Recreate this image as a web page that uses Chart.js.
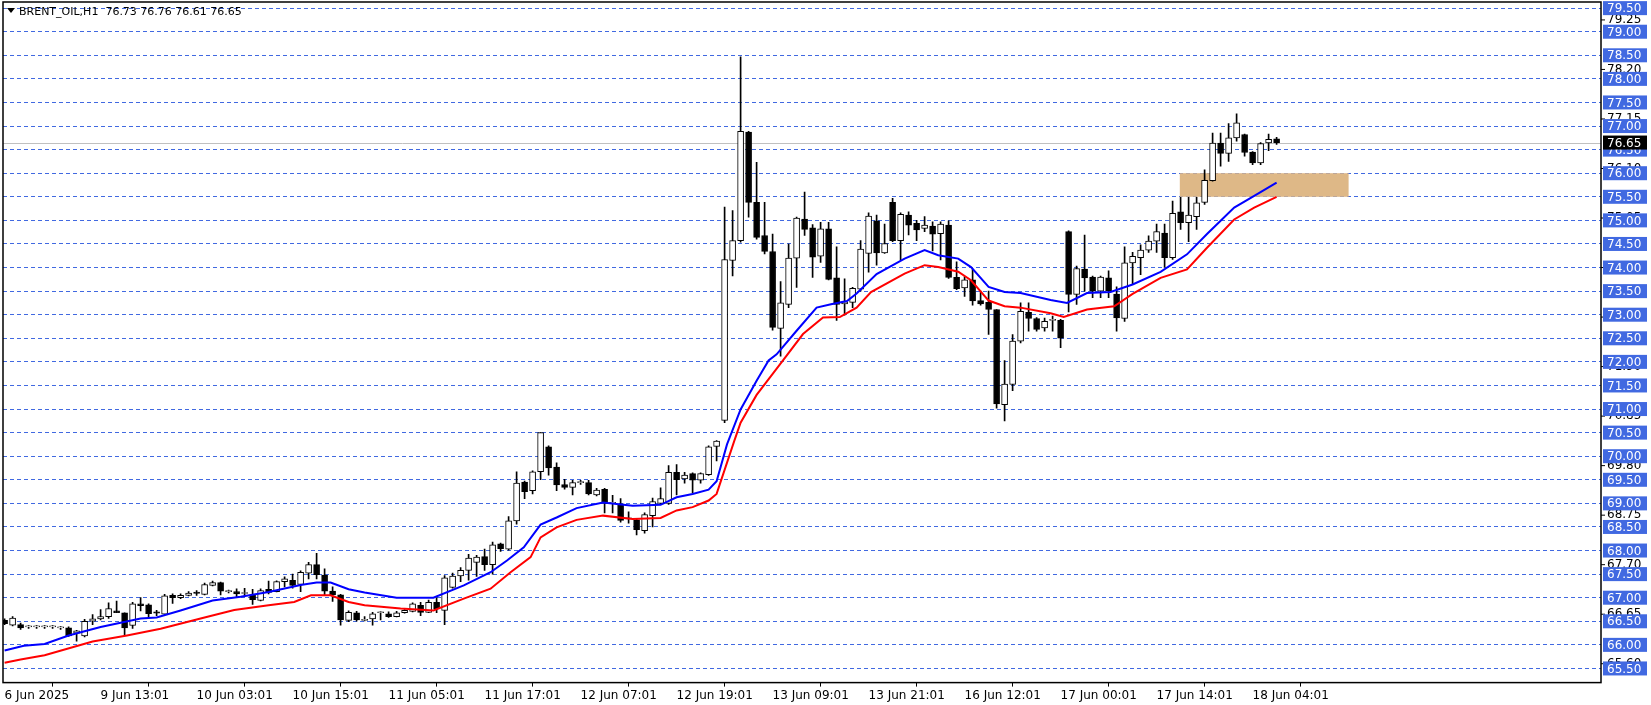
<!DOCTYPE html>
<html><head><meta charset="utf-8">
<script src="https://cdn.jsdelivr.net/npm/chart.js@4/dist/chart.umd.min.js"></script>
<style>html,body{margin:0;padding:0;background:#fff}#wrap{width:1651px;height:705px}</style>
</head><body><div id="wrap"><canvas id="c"></canvas></div>
<script>
const opens = [66.52,66.42,66.43,66.38,66.38,66.38,66.38,66.36,66.36,66.25,66.19,66.50,66.55,66.60,66.72,66.68,66.41,66.87,66.85,66.70,66.65,67.05,67.00,67.05,67.12,67.07,67.26,67.32,67.13,67.13,67.09,67.06,66.94,67.18,67.13,67.34,67.37,67.28,67.52,67.70,67.48,67.14,67.06,66.52,66.68,66.52,66.55,66.68,66.66,66.60,66.68,66.71,66.84,66.69,66.90,66.73,67.22,67.46,67.58,67.75,67.87,67.70,68.14,68.03,68.63,69.45,69.27,69.67,70.20,69.77,69.40,69.34,69.44,69.44,69.18,69.30,69.00,68.99,68.67,68.65,68.42,68.74,69.00,69.00,69.66,69.52,69.63,69.49,69.61,70.21,70.76,74.15,74.57,76.87,75.38,74.68,74.34,72.71,73.22,74.20,75.03,74.84,74.24,74.82,73.78,73.23,73.26,73.54,74.30,74.99,74.31,75.38,74.57,75.11,74.94,74.83,74.88,74.72,74.90,73.79,73.57,73.74,73.30,73.26,73.11,71.09,71.52,72.44,73.05,72.92,72.72,72.88,72.88,74.76,73.43,73.97,73.80,73.50,73.78,73.44,72.92,74.10,74.21,74.37,74.56,74.73,74.21,75.18,74.95,75.08,75.38,75.84,76.64,76.42,76.75,76.82,76.45,76.22,76.64,76.73];
const highs = [66.55,66.60,66.46,66.41,66.41,66.41,66.41,66.39,66.38,66.31,66.54,66.64,66.75,66.89,66.93,66.68,66.90,67.00,66.87,66.73,67.07,67.08,67.08,67.13,67.15,67.31,67.35,67.33,67.16,67.19,67.20,67.18,67.19,67.35,67.36,67.44,67.50,67.57,67.75,67.94,67.61,67.23,67.07,66.72,66.71,66.60,66.69,66.70,66.70,66.71,66.75,66.89,66.90,66.95,67.00,67.47,67.52,67.64,67.92,67.90,68.03,68.18,68.16,68.72,69.67,69.47,69.69,70.50,70.22,69.86,69.51,69.49,69.49,69.49,69.32,69.32,69.17,69.10,68.82,68.67,68.80,69.11,69.33,69.80,69.82,69.66,69.65,69.65,70.22,70.33,75.28,75.21,78.47,76.89,76.23,75.38,74.71,73.70,74.50,75.07,75.60,74.91,74.96,74.96,74.44,73.76,73.58,74.57,75.16,75.11,74.92,75.47,75.16,75.18,75.00,75.08,74.97,74.97,74.99,74.12,73.81,73.97,73.50,73.50,73.11,72.03,72.58,73.25,73.25,72.94,72.93,72.97,72.90,74.78,74.03,74.69,73.82,73.82,73.93,73.59,74.44,74.32,74.48,74.67,74.92,74.92,75.41,75.49,75.49,75.49,76.07,76.85,76.85,77.05,77.26,76.83,76.46,76.65,76.83,76.76];
const lows = [66.43,66.40,66.33,66.35,66.35,66.35,66.35,66.33,66.18,66.08,66.17,66.43,66.53,66.56,66.68,66.20,66.35,66.72,66.60,66.62,66.64,66.88,66.98,67.04,67.05,67.06,67.25,67.06,67.10,67.00,67.02,66.86,66.93,67.08,67.12,67.23,67.20,67.13,67.40,67.40,67.05,66.92,66.42,66.49,66.50,66.51,66.42,66.53,66.58,66.59,66.67,66.70,66.62,66.68,66.68,66.43,67.20,67.34,67.37,67.45,67.58,67.50,67.98,68.01,68.56,69.10,69.20,69.50,69.60,69.27,69.30,69.18,69.40,69.18,69.16,68.80,68.80,68.60,68.58,68.33,68.37,68.50,68.98,68.98,69.18,69.43,69.22,69.43,69.59,69.90,70.71,73.82,74.54,75.07,74.60,74.29,72.67,72.12,73.15,73.58,74.68,73.79,74.11,73.74,72.88,72.99,73.15,73.50,73.90,74.05,74.30,74.55,74.16,74.69,74.57,74.76,74.35,74.16,73.77,73.53,73.39,73.20,73.20,72.58,71.02,70.75,71.39,72.40,72.65,72.65,72.65,72.65,72.30,73.06,73.22,73.50,73.36,73.36,73.36,72.65,72.86,73.64,73.85,74.32,74.32,74.00,74.17,74.81,74.55,74.81,75.34,75.83,76.15,76.25,76.68,76.36,76.18,76.18,76.48,76.61];
const closes = [66.45,66.57,66.36,66.38,66.38,66.38,66.38,66.36,66.19,66.30,66.50,66.55,66.60,66.77,66.68,66.36,66.87,66.83,66.66,66.67,67.04,67.00,67.05,67.10,67.09,67.28,67.32,67.14,67.13,67.08,67.09,66.96,67.15,67.11,67.34,67.40,67.26,67.54,67.70,67.49,67.14,67.06,66.53,66.69,66.53,66.52,66.66,66.68,66.60,66.68,66.73,66.87,66.69,66.90,66.77,67.42,67.46,67.58,67.84,67.86,67.70,68.12,68.04,68.63,69.43,69.25,69.67,70.50,69.75,69.39,69.34,69.44,69.44,69.20,69.28,69.00,69.00,68.64,68.67,68.44,68.76,69.04,69.10,69.66,69.50,69.60,69.49,69.63,70.20,70.32,74.17,74.57,76.89,75.38,74.64,74.34,72.73,73.25,74.20,75.05,74.81,74.22,74.82,73.75,73.22,73.27,73.56,74.39,75.09,74.31,74.51,74.57,75.13,74.90,74.80,74.90,74.71,74.92,73.79,73.55,73.74,73.29,73.23,73.11,71.11,71.53,72.44,73.07,72.92,72.69,72.86,72.88,72.50,73.43,73.98,73.78,73.50,73.80,73.50,72.93,74.10,74.24,74.37,74.56,74.76,74.21,75.15,74.95,75.11,75.37,75.85,76.64,76.42,76.75,77.07,76.44,76.22,76.63,76.72,76.65];

const maFastX = [0,2.4,5,8,12,17,19,22,26,29.5,33,37,39,40.75,43,45,49,53.6,57.4,60.75,62.8,64.9,67,69,71.5,74.8,78.5,82,84,86,88,89,90.3,92,94,95.5,96.5,99,101.5,103.3,105.3,106.5,109,112.5,115,116.7,119.2,120.8,123,125,127,130.75,132.8,135.3,138.25,141,144.5,147.8,150.3,153.7,156.2,159];
const maFastY = [65.88,65.98,66.02,66.2,66.38,66.56,66.58,66.73,66.94,67.02,67.12,67.27,67.32,67.32,67.18,67.11,67.0,67.0,67.26,67.54,67.79,68.07,68.55,68.7,68.9,69.02,68.95,68.97,69.13,69.2,69.29,69.47,70.25,70.99,71.6,72.03,72.16,72.66,73.15,73.22,73.29,73.45,73.86,74.19,74.37,74.26,74.19,74.01,73.59,73.48,73.46,73.31,73.25,73.46,73.48,73.64,73.91,74.28,74.71,75.27,75.52,75.8];
const maSlowX = [0,2,5,11,15.3,19.5,24.5,28.7,33,36.2,38.3,40.75,43,45,49.5,53.6,57.4,60.75,63.25,65.75,67,69,71.5,74.8,78.5,82,84,86,88,89,91.2,92,94,97.3,99.8,102.3,104.4,106.5,108.3,112.5,115,116.7,119.2,120.8,123,125,127,130.75,132.4,135.3,138.7,141,144.5,147.8,150.3,153.7,156.2,159];
const maSlowY = [65.62,65.69,65.78,66.07,66.2,66.34,66.56,66.74,66.84,66.91,67.05,67.05,66.91,66.84,66.77,66.73,66.98,67.19,67.54,67.86,68.28,68.49,68.65,68.74,68.67,68.69,68.85,68.92,69.06,69.2,70.32,70.71,71.3,72.03,72.59,72.94,72.95,73.15,73.48,73.87,74.05,74.01,73.91,73.73,73.3,73.18,73.15,73.03,72.95,73.11,73.18,73.44,73.78,73.96,74.42,75.02,75.27,75.5];

const gridLevels = [65.5,66,66.5,67,67.5,68,68.5,69,69.5,70,70.5,71,71.5,72,72.5,73,73.5,74,74.5,75,75.5,76,76.5,77,77.5,78,78.5,79,79.5];
const scaleLevels = [79.25,78.20,77.15,76.10,75.05,74.00,72.95,71.90,70.85,69.80,68.75,67.70,66.65,65.60];
const dateTickIdx = [0,12,24,36,48,60,72,84,96,108,120,132,144,156];
const dateLabels = ['6 Jun 2025','9 Jun 13:01','10 Jun 03:01','10 Jun 15:01','11 Jun 05:01','11 Jun 17:01','12 Jun 07:01','12 Jun 19:01','13 Jun 09:01','13 Jun 21:01','16 Jun 12:01','17 Jun 00:01','17 Jun 14:01','18 Jun 04:01'];
const zoneX = [146.9,168];
const zoneY = [75.5,76.0];
const lastPrice = 76.65;
const titleText = 'BRENT_OIL,H1  76.73 76.76 76.61 76.65';

const idx = opens.map((_, i) => i);
const wicks = idx.map(i => ({x:i, y:[lows[i], highs[i]]}));
const bodies = idx.map(i => ({x:i, y:[Math.min(opens[i],closes[i]), Math.max(opens[i],closes[i])]}));
const bodyColors = idx.map(i => closes[i] >= opens[i] ? '#ffffff' : '#000000');
const FONT = '"DejaVu Sans", sans-serif';

const overlay = {
  id:'overlay',
  beforeDatasetsDraw(chart){
    const {ctx, chartArea:a, scales:{x,y}} = chart;
    ctx.save();
    ctx.fillStyle = '#deb887';
    const x0 = x.getPixelForValue(zoneX[0]), x1 = x.getPixelForValue(zoneX[1]);
    const y0 = y.getPixelForValue(zoneY[1]), y1 = y.getPixelForValue(zoneY[0]);
    ctx.fillRect(x0, y0, x1-x0, y1-y0);
    const ly = Math.round(y.getPixelForValue(lastPrice)) + 0.5;
    ctx.strokeStyle = '#c0c0c0'; ctx.lineWidth = 1;
    ctx.beginPath(); ctx.moveTo(a.left, ly); ctx.lineTo(a.right, ly); ctx.stroke();
    ctx.restore();
  },
  afterDraw(chart){
    const {ctx, chartArea:a, scales:{y}} = chart;
    ctx.save();
    ctx.strokeStyle = '#000'; ctx.lineWidth = 1.5;
    ctx.strokeRect(a.left, a.top, a.right-a.left, a.bottom-a.top);
    ctx.font = '12px ' + FONT; ctx.textBaseline = 'middle'; ctx.textAlign = 'left';
    const lx = a.right + 4;
    ctx.fillStyle = '#000'; ctx.lineWidth = 1;
    scaleLevels.forEach(v => {
      const py = y.getPixelForValue(v);
      ctx.beginPath(); ctx.moveTo(a.right, py); ctx.lineTo(a.right+4, py); ctx.stroke();
      ctx.fillText(v.toFixed(2), lx+2, py);
    });
    gridLevels.forEach(v => {
      const py = y.getPixelForValue(v);
      ctx.fillStyle = '#4169e1';
      ctx.fillRect(lx-2, py-7, 44, 14);
      ctx.fillStyle = '#ffffff';
      ctx.fillText(v.toFixed(2), lx+2, py+1);
    });
    const py = y.getPixelForValue(lastPrice);
    ctx.fillStyle = '#000'; ctx.fillRect(lx-2, py-7, 44, 14);
    ctx.fillStyle = '#fff'; ctx.fillText(lastPrice.toFixed(2), lx+2, py+1);
    // title
    ctx.fillStyle = '#000';
    ctx.beginPath(); ctx.moveTo(a.left+4, 8); ctx.lineTo(a.left+12, 8); ctx.lineTo(a.left+8, 13); ctx.closePath(); ctx.fill();
    ctx.font = '11px ' + FONT; ctx.fillText(titleText, a.left+16, 12);
    ctx.restore();
  }
};

new Chart(document.getElementById('c'), {
  data: {
    datasets: [
      {type:'bar', data:wicks, backgroundColor:'#000', barThickness:1, grouped:false, order:3},
      {type:'bar', data:bodies, backgroundColor:bodyColors, borderColor:'#000', borderWidth:1, borderSkipped:false, barThickness:6, minBarLength:1, grouped:false, order:2},
      {type:'line', data:maSlowX.map((v,i)=>({x:v,y:maSlowY[i]})), borderColor:'#ff0000', borderWidth:2, pointRadius:0, order:1},
      {type:'line', data:maFastX.map((v,i)=>({x:v,y:maFastY[i]})), borderColor:'#0000ff', borderWidth:2, pointRadius:0, order:0}
    ]
  },
  options: {
    responsive:true, maintainAspectRatio:false, animation:false,
    devicePixelRatio:1,
    layout:{padding:{left:3, right:50, top:2, bottom:0}},
    plugins:{legend:{display:false}, tooltip:{enabled:false}},
    scales:{
      x:{type:'linear', min:-0.2, max:199.55, offset:false,
         afterBuildTicks(s){ s.ticks = dateTickIdx.map(v=>({value:v})); },
         ticks:{autoSkip:false, maxRotation:0, align:'start', padding:2, color:'#000', font:{family:'DejaVu Sans', size:12},
           callback(v){ const k = dateTickIdx.indexOf(v); return k>=0 ? dateLabels[k] : ''; }},
         grid:{drawOnChartArea:false, drawTicks:true, tickLength:4, color:'#000'},
         border:{display:false}},
      y:{type:'linear', min:65.2, max:79.63, display:true,
         afterBuildTicks(s){ s.ticks = gridLevels.map(v=>({value:v})); },
         ticks:{display:false},
         grid:{color:'#4169e1', lineWidth:1, drawTicks:false, tickBorderDash:[], },
         border:{display:false, dash:[4,3]}}
    }
  },
  plugins:[overlay]
});
</script></body></html>
